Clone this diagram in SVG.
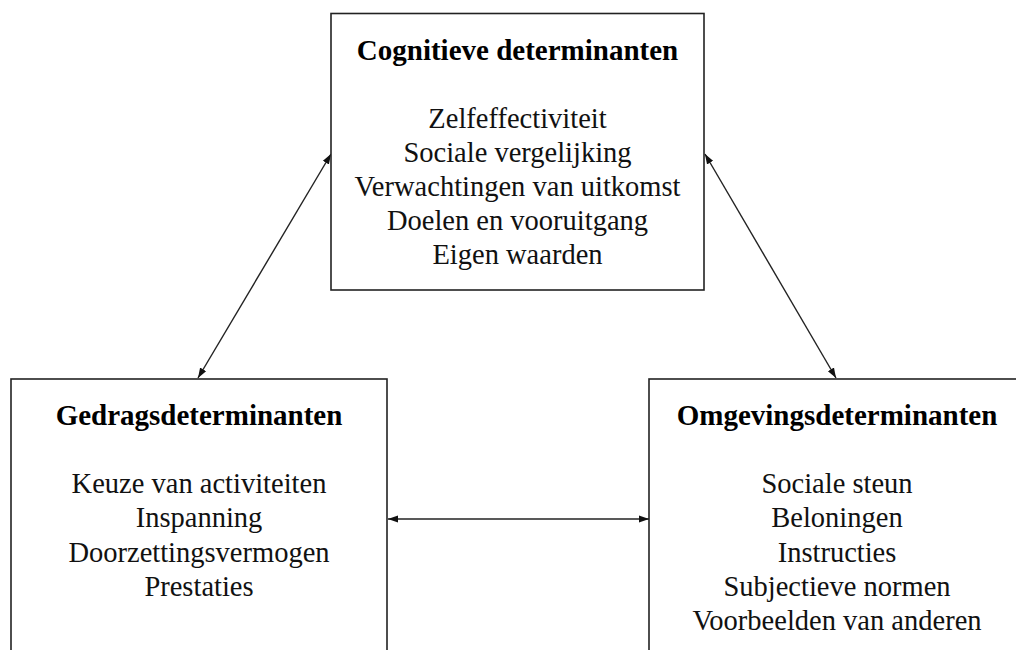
<svg xmlns="http://www.w3.org/2000/svg" width="1016" height="650" viewBox="0 0 1016 650">
<style>
.box{fill:#fff;stroke:#222;stroke-width:1.6}
.t{font-family:"Liberation Serif",serif;font-size:28.5px;fill:#111;text-anchor:middle}
.h{font-family:"Liberation Serif",serif;font-size:29px;font-weight:bold;fill:#000;text-anchor:middle}
.c{stroke:#222;stroke-width:1.4;fill:none;marker-start:url(#a);marker-end:url(#a)}
</style>
<defs>
<marker id="a" viewBox="0 0 10 10" refX="10" refY="5" markerWidth="10" markerHeight="10" markerUnits="userSpaceOnUse" orient="auto-start-reverse">
<path d="M0,1.5 L10,5 L0,8.5 z" fill="#111"/>
</marker>
</defs>
<rect width="1016" height="650" fill="#fff"/>
<g id="connectors">
<line class="c" x1="198" y1="378" x2="331" y2="154"/>
<line class="c" x1="705" y1="154" x2="836" y2="378"/>
<line class="c" x1="388" y1="519" x2="649" y2="519"/>
</g>
<g id="cognitief">
<rect class="box" x="331" y="13.5" width="373" height="276.5"/>
<text class="h" x="517.5" y="60">Cognitieve determinanten</text>
<text class="t" x="517.5" y="128">Zelfeffectiviteit</text>
<text class="t" x="517.5" y="162">Sociale vergelijking</text>
<text class="t" x="517.5" y="196">Verwachtingen van uitkomst</text>
<text class="t" x="517.5" y="230">Doelen en vooruitgang</text>
<text class="t" x="517.5" y="264">Eigen waarden</text>
</g>
<g id="gedrag">
<rect class="box" x="11" y="379" width="376" height="290"/>
<text class="h" x="199" y="425">Gedragsdeterminanten</text>
<text class="t" x="199" y="493">Keuze van activiteiten</text>
<text class="t" x="199" y="527">Inspanning</text>
<text class="t" x="199" y="562">Doorzettingsvermogen</text>
<text class="t" x="199" y="596">Prestaties</text>
</g>
<g id="omgeving">
<rect class="box" x="649" y="379" width="380" height="290"/>
<text class="h" x="837" y="425">Omgevingsdeterminanten</text>
<text class="t" x="837" y="493">Sociale steun</text>
<text class="t" x="837" y="527">Beloningen</text>
<text class="t" x="837" y="562">Instructies</text>
<text class="t" x="837" y="596">Subjectieve normen</text>
<text class="t" x="837" y="630">Voorbeelden van anderen</text>
</g>
</svg>
